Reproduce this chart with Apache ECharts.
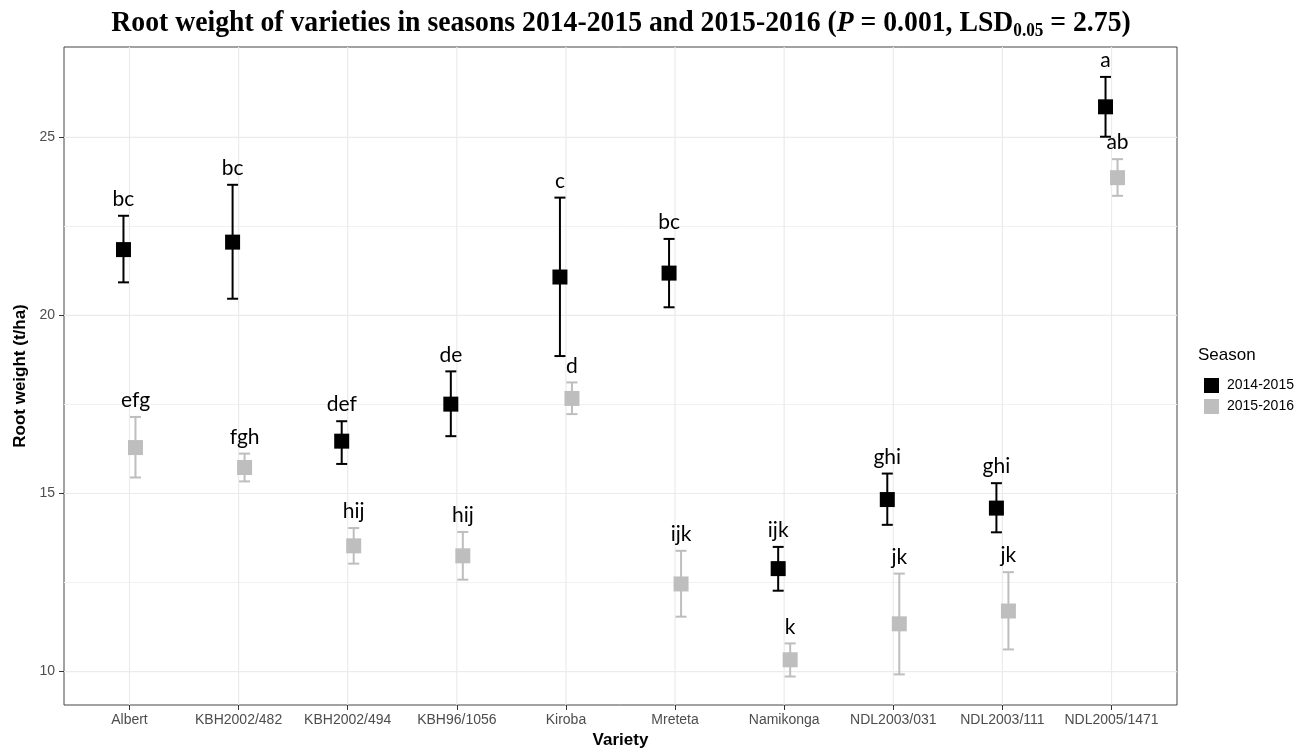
<!DOCTYPE html>
<html>
<head>
<meta charset="utf-8">
<script src="https://cdn.jsdelivr.net/npm/echarts@6/dist/echarts.min.js"></script>
<style>
  html, body { margin: 0; padding: 0; background: #fff; }
  #chart { width: 1309px; height: 754px; }
</style>
</head>
<body>
<div id="chart"></div>
<script>
var categories = ['Albert', 'KBH2002/482', 'KBH2002/494', 'KBH96/1056', 'Kiroba',
    'Mreteta', 'Namikonga', 'NDL2003/031', 'NDL2003/111', 'NDL2005/1471'];

// season 2014-2015
var mean1415 = [21.85, 22.06, 16.47, 17.51, 21.08, 21.19, 12.89, 14.83, 14.59, 25.86];
var low1415 = [20.93, 20.47, 15.83, 16.61, 18.86, 20.23, 12.27, 14.12, 13.91, 25.02];
var high1415 = [22.80, 23.67, 17.03, 18.43, 23.31, 22.15, 13.50, 15.56, 15.29, 26.70];
var letters1415 = ['bc', 'bc', 'def', 'de', 'c', 'bc', 'ijk', 'ghi', 'ghi', 'a'];

// season 2015-2016
var mean1516 = [16.29, 15.73, 13.53, 13.25, 17.67, 12.46, 10.33, 11.34, 11.70, 23.87];
var low1516 = [15.45, 15.34, 13.03, 12.58, 17.23, 11.54, 9.86, 9.92, 10.62, 23.36];
var high1516 = [17.15, 16.12, 14.03, 13.92, 18.12, 13.39, 10.79, 12.75, 12.79, 24.39];
var letters1516 = ['efg', 'fgh', 'hij', 'hij', 'd', 'ijk', 'k', 'jk', 'jk', 'ab'];

var yTicks = [10, 15, 20, 25];
var yMinor = [12.5, 17.5, 22.5];
var xTicks = [1, 2, 3, 4, 5, 6, 7, 8, 9, 10];

var dodge = 0.055;
var black = '#000000';
var grey = '#bebebe';

function points(means, off) {
    return means.map(function (m, i) { return [i + 1 + off, m]; });
}
function bars(means, lows, highs, off) {
    return means.map(function (m, i) { return [i + 1 + off, m, lows[i], highs[i]]; });
}

function errorBar(color, letters) {
    return function (params, api) {
        var x = api.value(0);
        var top = api.coord([x, api.value(3)]);
        var bot = api.coord([x, api.value(2)]);
        var half = 5.5;
        var st = { stroke: color, lineWidth: 2 };
        return {
            type: 'group',
            children: [
                { type: 'line', shape: { x1: top[0], y1: top[1], x2: bot[0], y2: bot[1] }, style: st },
                { type: 'line', shape: { x1: top[0] - half, y1: top[1], x2: top[0] + half, y2: top[1] }, style: st },
                { type: 'line', shape: { x1: bot[0] - half, y1: bot[1], x2: bot[0] + half, y2: bot[1] }, style: st },
                {
                    type: 'text', x: top[0], y: top[1] - 6,
                    style: {
                        text: letters[params.dataIndex], fill: '#000',
                        font: '21px Lato', align: 'center', verticalAlign: 'bottom'
                    }
                }
            ]
        };
    };
}

function hLine(params, api) {
    var cs = params.coordSys;
    var y = api.coord([1, api.value(1)])[1];
    var minor = api.value(2) === 1;
    return {
        type: 'line',
        shape: { x1: cs.x, y1: y, x2: cs.x + cs.width, y2: y },
        style: { stroke: minor ? '#f1f1f1' : '#ebebeb', lineWidth: minor ? 1 : 1.2 }
    };
}
function vLine(params, api) {
    var cs = params.coordSys;
    var x = api.coord([api.value(0), 10])[0];
    return {
        type: 'line',
        shape: { x1: x, y1: cs.y, x2: x, y2: cs.y + cs.height },
        style: { stroke: '#ebebeb', lineWidth: 1.2 }
    };
}

var hData = yTicks.map(function (v) { return [1, v, 0]; })
    .concat(yMinor.map(function (v) { return [1, v, 1]; }));
var vData = xTicks.map(function (v) { return [v, 10]; });

var chart = echarts.init(document.getElementById('chart'));

option = {
    animation: false,
    backgroundColor: '#fff',
    grid: {
        left: 64, right: 132, top: 47, bottom: 47,
        show: true, borderColor: '#444', borderWidth: 1, backgroundColor: 'transparent'
    },
    graphic: [
        {
            type: 'text', x: 621, y: 24, scaleX: 0.955,
            style: {
                text: '{b|Root weight of varieties in seasons 2014-2015 and 2015-2016 (}{i|P}{b| = 0.001, LSD}{s|0.05}{b| = 2.75)}',
                align: 'center', verticalAlign: 'middle',
                rich: {
                    b: { fontFamily: 'Liberation Serif', fontWeight: 'bold', fontSize: 29, lineHeight: 32, fill: '#000' },
                    i: { fontFamily: 'Liberation Serif', fontWeight: 'bold', fontStyle: 'italic', fontSize: 29, lineHeight: 32, fill: '#000' },
                    s: { fontFamily: 'Liberation Serif', fontWeight: 'bold', fontSize: 18, lineHeight: 14, verticalAlign: 'bottom', fill: '#000' }
                }
            }
        },
        {
            type: 'text', x: 1198, y: 355,
            style: { text: 'Season', fill: '#000', font: '17px "Liberation Sans"', verticalAlign: 'middle' }
        }
    ],
    legend: {
        orient: 'vertical',
        left: 1199, top: 373,
        itemWidth: 15, itemHeight: 15, itemGap: 6,
        icon: 'rect',
        selectedMode: false,
        data: ['2014-2015', '2015-2016'],
        textStyle: { fontFamily: 'Liberation Sans', fontSize: 14, color: '#000', padding: [0, 0, 0, 3], lineHeight: 15 }
    },
    xAxis: {
        type: 'value',
        min: 0.4, max: 10.6,
        name: 'Variety',
        nameLocation: 'middle',
        nameGap: 27,
        nameTextStyle: { fontFamily: 'Liberation Sans', fontWeight: 'bold', fontSize: 17, color: '#000' },
        axisLine: { show: false },
        axisTick: { customValues: xTicks, length: 5, lineStyle: { color: '#333' } },
        axisLabel: {
            customValues: xTicks, margin: 8,
            fontFamily: 'Liberation Sans', fontSize: 14, color: '#4d4d4d',
            formatter: function (v) { return categories[Math.round(v) - 1]; }
        },
        splitLine: { show: false }
    },
    yAxis: {
        type: 'value',
        min: 9.06, max: 27.54,
        name: 'Root weight (t/ha)',
        nameLocation: 'middle',
        nameGap: 35,
        nameTextStyle: { fontFamily: 'Liberation Sans', fontWeight: 'bold', fontSize: 17, color: '#000' },
        axisLine: { show: false },
        axisTick: { customValues: yTicks, length: 5, lineStyle: { color: '#333' } },
        axisLabel: {
            customValues: yTicks, margin: 9,
            fontFamily: 'Liberation Sans', fontSize: 14, color: '#4d4d4d'
        },
        splitLine: { show: false }
    },
    series: [
        { type: 'custom', silent: true, z: 0, renderItem: hLine, data: hData, encode: { x: 0, y: 1 } },
        { type: 'custom', silent: true, z: 0, renderItem: vLine, data: vData, encode: { x: 0, y: 1 } },
        {
            type: 'custom', silent: true, z: 2,
            renderItem: errorBar(grey, letters1516),
            data: bars(mean1516, low1516, high1516, dodge), encode: { x: 0, y: 1 }
        },
        {
            type: 'custom', silent: true, z: 2,
            renderItem: errorBar(black, letters1415),
            data: bars(mean1415, low1415, high1415, -dodge), encode: { x: 0, y: 1 }
        },
        {
            name: '2015-2016', type: 'scatter', z: 3, symbol: 'rect', symbolSize: 15,
            itemStyle: { color: grey, opacity: 1 }, data: points(mean1516, dodge)
        },
        {
            name: '2014-2015', type: 'scatter', z: 3, symbol: 'rect', symbolSize: 15,
            itemStyle: { color: black, opacity: 1 }, data: points(mean1415, -dodge)
        }
    ]
};

chart.setOption(option);
</script>
</body>
</html>
